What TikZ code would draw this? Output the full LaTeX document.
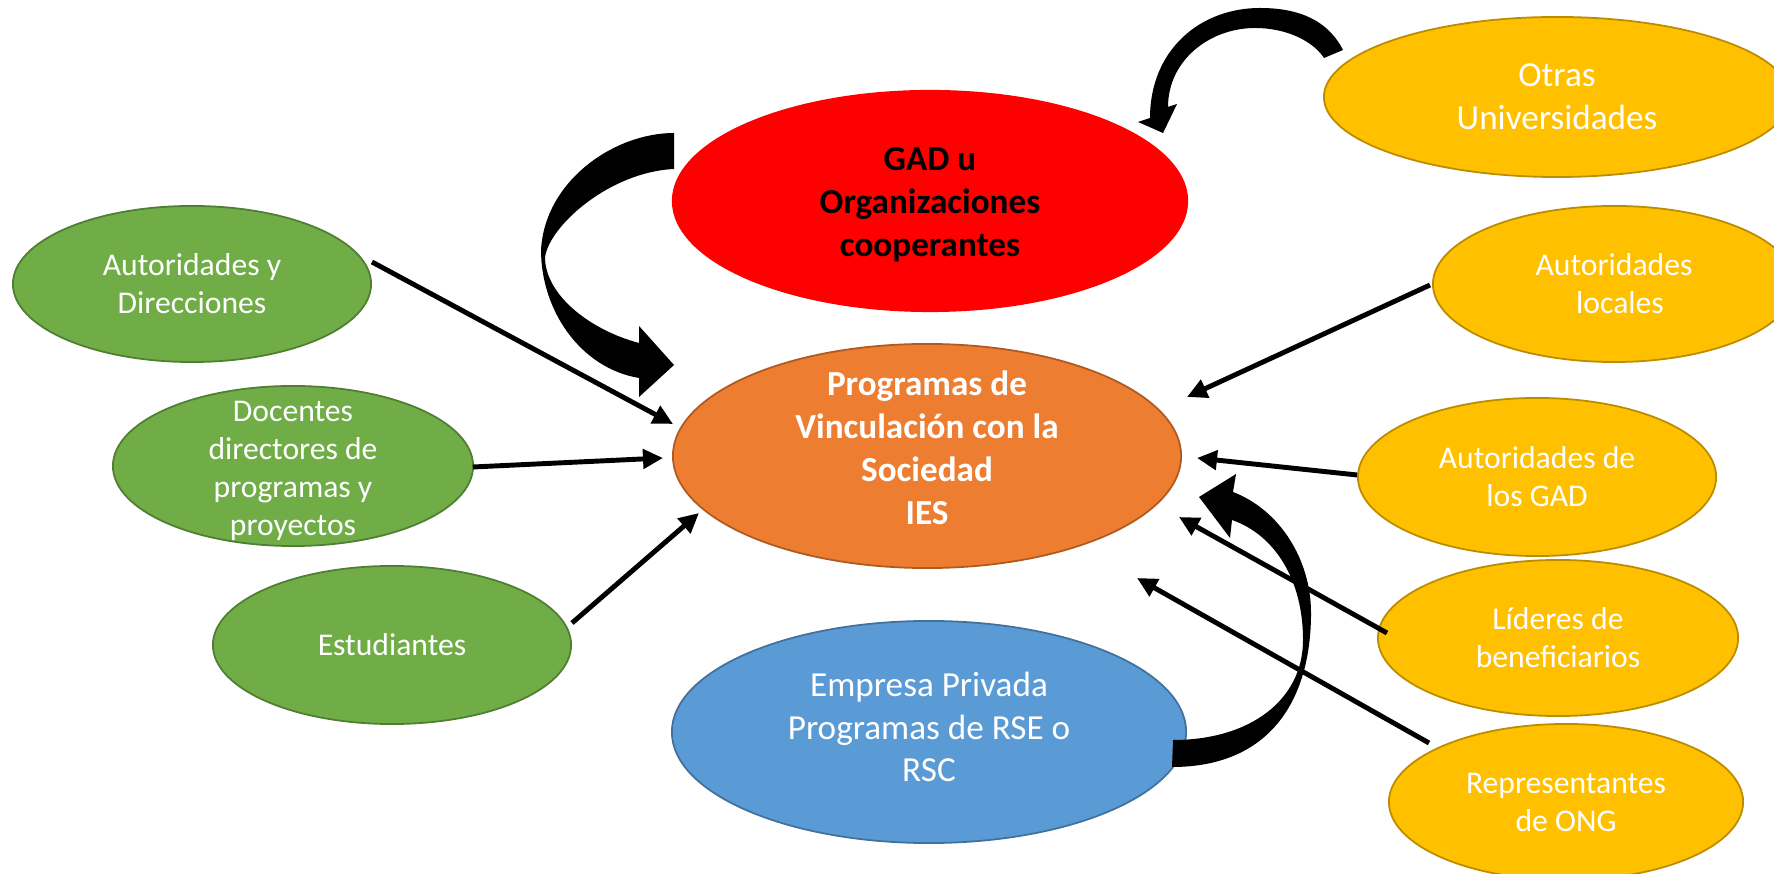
\documentclass[tikz,border=0pt]{standalone}
\usepackage{fontspec}
\setmainfont{Carlito}
\usetikzlibrary{shapes.geometric,arrows.meta,calc}
\definecolor{gfill}{HTML}{70AD47}
\definecolor{gline}{HTML}{507E32}
\definecolor{ofill}{HTML}{ED7D31}
\definecolor{oline}{HTML}{AE5A21}
\definecolor{bfill}{HTML}{5B9BD5}
\definecolor{bline}{HTML}{41719C}
\definecolor{yfill}{HTML}{FFC000}
\definecolor{yline}{HTML}{BC8C00}
\definecolor{rfill}{HTML}{FF0000}
\tikzset{
  ell/.style={ellipse, inner sep=0pt, align=center, line width=0.5pt, text=white},
  small/.style={font=\fontsize{9}{10.8}\selectfont},
  big/.style={font=\fontsize{10}{12.2}\selectfont},
  bigbold/.style={font=\fontsize{10}{12.2}\selectfont\bfseries},
  green/.style={ell, small, fill=gfill, draw=gline},
  yellow/.style={ell, small, fill=yfill, draw=yline},
  arr/.style={line width=1.4pt, -{Triangle[length=0.2cm,width=0.19cm]}},
  fat/.style={fill=black, draw=none}
}
\begin{document}
\begin{tikzpicture}[x=0.01cm,y=-0.01cm]
\useasboundingbox (0,0) rectangle (1774,874);
\clip (0,0) rectangle (1774,874);
\fill[white] (0,0) rectangle (1774,874);

% left column
\node[green, minimum width=3.58cm, minimum height=1.56cm] (g1) at (192,284) {Autoridades y\\Direcciones};
\node[green, minimum width=3.60cm, minimum height=1.60cm,
  label={[small, text=white, align=center, yshift=-0.05cm]center:Docentes\\directores de\\programas y\\proyectos}] (g2) at (293,466) {};
\node[green, minimum width=3.58cm, minimum height=1.58cm] (g3) at (392,645) {Estudiantes};

% centre column
\node[ell, fill=rfill, draw=none, minimum width=5.16cm, minimum height=2.22cm,
  label={[bigbold, text=black, align=center, yshift=-0.04cm]center:GAD u\\Organizaciones\\cooperantes}] (r) at (930,201) {};
\node[ell, fill=ofill, draw=oline, minimum width=5.08cm, minimum height=2.24cm,
  label={[bigbold, text=white, align=center, yshift=0.08cm]center:Programas de\\Vinculación con la\\Sociedad\\IES}] (o) at (927,456) {};
\node[ell, fill=bfill, draw=bline, minimum width=5.14cm, minimum height=2.22cm,
  label={[big, text=white, align=center, yshift=0.05cm]center:Empresa Privada\\Programas de RSE o\\RSC}] (b) at (929,732) {};

% right column
\node[yellow, big, minimum width=4.66cm, minimum height=1.60cm] (y1) at (1557,97) {Otras\\Universidades};
\node[yellow, minimum width=3.62cm, minimum height=1.56cm] (y2) at (1614,284) {Autoridades\\\hspace*{0.12cm}locales};
\node[yellow, minimum width=3.58cm, minimum height=1.58cm] (y3) at (1537,477) {Autoridades de\\los GAD};
\node[yellow, minimum width=3.60cm, minimum height=1.56cm] (y4) at (1558,638) {Líderes de\\beneficiarios};
\node[yellow, minimum width=3.54cm, minimum height=1.56cm] (y5) at (1566,802) {Representantes\\de ONG};

% straight connectors
\draw[arr] ($(g1.center)+(180,-22)$) -- ($(o.center)+(-254,-32)$);
\draw[arr] ($(g2.center)+(180,1)$) -- ($(o.center)+(-264,2)$);
\draw[arr] ($(g3.center)+(180,-22)$) -- ($(o.center)+(-228,57)$);
\draw[arr] ($(y2.center)+(-184,1)$) -- ($(o.center)+(260,-59)$);
\draw[arr] ($(y3.center)+(-180,-2)$) -- ($(o.center)+(270,2)$);
\draw[arr] ($(y4.center)+(-171,-5)$) -- ($(o.center)+(252,61)$);
\draw[arr] ($(y5.center)+(-137,-59)$) -- ($(o.center)+(210,122)$);

% thick curved arrow: GAD -> Programas
\fill[fat] (674,133) .. controls (615,133) and (545,180) .. (541,250)
  .. controls (541,310) and (580,368) .. (639,378)
  -- (639,397) -- (674,365) -- (639,326) -- (639,343)
  .. controls (590,330) and (545,295) .. (545,257)
  .. controls (550,225) and (610,172) .. (674,169) -- cycle;

% thick curved arrow: Otras Universidades -> GAD
\fill[fat] (1343,50) .. controls (1325,15) and (1290,8) .. (1260,8)
  .. controls (1200,8) and (1150,50) .. (1150,118)
  -- (1138,122) -- (1163,133) -- (1177,104) -- (1168,107)
  .. controls (1168,60) and (1210,28) .. (1255,28)
  .. controls (1285,28) and (1312,40) .. (1324,58) -- cycle;

% thick curved arrow: Empresa Privada -> Programas
\fill[fat] (1172,767) .. controls (1270,767) and (1311,700) .. (1311,613)
  .. controls (1311,560) and (1280,510) .. (1233,492)
  -- (1236,474) -- (1199,497) -- (1230,538) -- (1232,520)
  .. controls (1275,535) and (1303,580) .. (1303,640)
  .. controls (1303,700) and (1250,740) .. (1173,740) -- cycle;
\end{tikzpicture}
\end{document}
